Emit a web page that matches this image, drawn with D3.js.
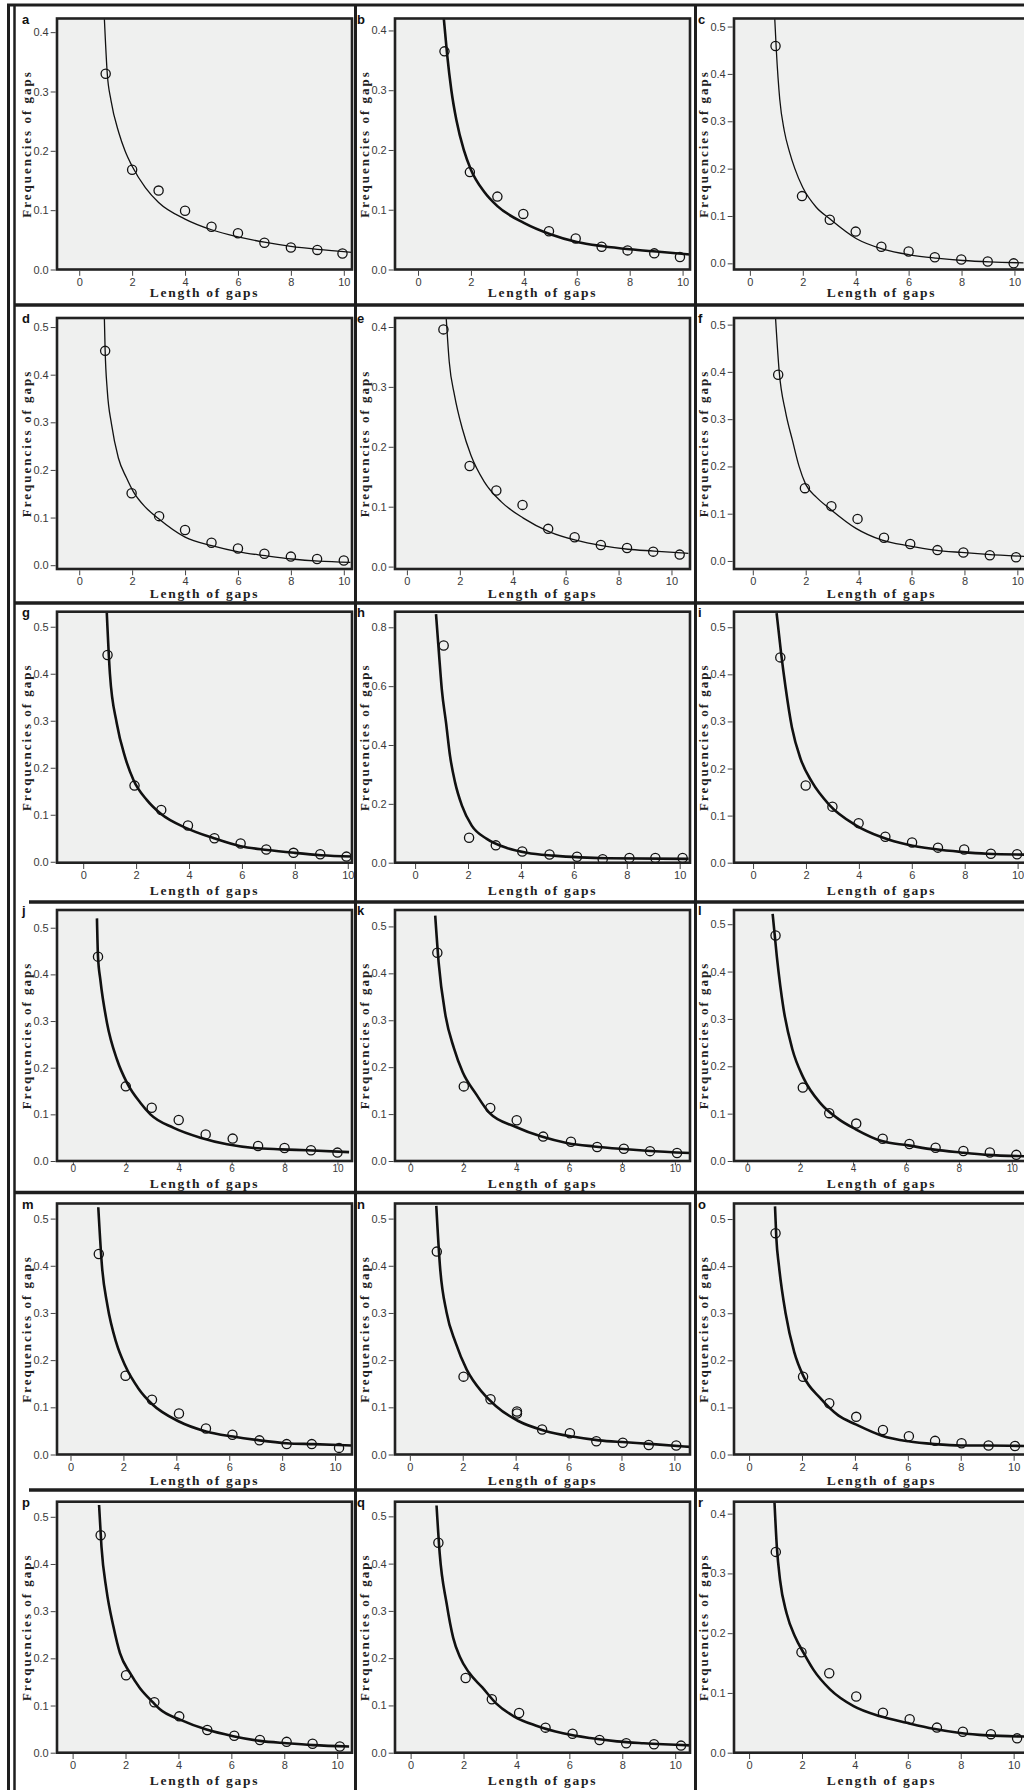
<!DOCTYPE html>
<html>
<head>
<meta charset="utf-8">
<script src="https://cdn.jsdelivr.net/npm/d3@7"></script>
<style>
  body { margin: 0; background: #fff; }
  svg { display: block; }
  .axis path.domain { display: none; }
  .axis .tick line { stroke: #444; stroke-width: 1; }
  .axis .tick text { font-family: "Liberation Sans", Arial, sans-serif; font-size: 11px; fill: #3a3a3a; }
  .ttl { font-family: "Liberation Serif", "Times New Roman", serif; font-weight: bold; fill: #222; }
  .letter { font-family: "Liberation Sans", Arial, sans-serif; font-weight: bold; font-size: 13px; fill: #111; }
</style>
</head>
<body>
<div id="fig"></div>
<script>
// panel letters, in reading order
var letters = ["a","b","c","d","e","f","g","h","i","j","k","l","m","n","o","p","q","r"];

// observed frequencies of gaps: [length, frequency]
var obsA = [[1,0.33],[2,0.168],[3,0.133],[4,0.099],[5,0.072],[6,0.061],[7,0.045],[8,0.037],[9,0.033],[9.95,0.027]];
var obsB = [[1,0.365],[1.96,0.163],[3,0.122],[3.98,0.093],[4.95,0.064],[5.96,0.052],[6.94,0.038],[7.92,0.032],[8.93,0.027],[9.9,0.021]];
var obsC = [[0.97,0.459],[1.97,0.142],[3.02,0.092],[4,0.067],[4.97,0.035],[6,0.025],[6.99,0.013],[7.99,0.008],[8.99,0.004],[9.97,0.0]];
var obsD = [[0.98,0.45],[1.98,0.151],[3.02,0.103],[4,0.074],[5,0.047],[6,0.035],[7,0.024],[8,0.018],[8.99,0.013],[10,0.01]];
var obsE = [[1.38,0.396],[2.37,0.168],[3.38,0.127],[4.37,0.103],[5.34,0.063],[6.34,0.049],[7.33,0.036],[8.32,0.031],[9.31,0.025],[10.31,0.02]];
var obsF = [[0.96,0.394],[1.97,0.154],[2.97,0.116],[3.96,0.089],[4.96,0.049],[5.95,0.036],[6.98,0.023],[7.96,0.018],[8.96,0.012],[9.95,0.008]];
var obsG = [[0.92,0.44],[1.94,0.162],[2.95,0.11],[3.96,0.077],[4.96,0.05],[5.95,0.039],[6.92,0.026],[7.95,0.019],[8.96,0.016],[9.95,0.011]];
var obsH = [[1.08,0.738],[2.04,0.085],[3.05,0.059],[4.05,0.038],[5.08,0.028],[6.12,0.02],[7.09,0.012],[8.1,0.016],[9.08,0.016],[10.11,0.016]];
var obsI = [[1.03,0.436],[1.99,0.164],[3,0.119],[3.99,0.084],[5,0.055],[6.01,0.043],[6.99,0.032],[7.98,0.028],[8.99,0.019],[9.98,0.018]];
var obsJ = [[0.95,0.438],[2,0.16],[2.98,0.114],[4,0.088],[5.02,0.057],[6.04,0.048],[7,0.032],[8,0.028],[9,0.023],[10,0.018]];
var obsK = [[1.02,0.444],[2.02,0.159],[3.02,0.113],[4.02,0.087],[5.02,0.052],[6.07,0.041],[7.06,0.03],[8.07,0.026],[9.06,0.021],[10.08,0.017]];
var obsL = [[1.07,0.476],[2.1,0.155],[3.1,0.101],[4.12,0.079],[5.12,0.047],[6.13,0.036],[7.12,0.028],[8.17,0.021],[9.17,0.018],[10.17,0.013]];
var obsM = [[1.07,0.425],[2.08,0.167],[3.08,0.116],[4.1,0.087],[5.12,0.055],[6.12,0.042],[7.14,0.03],[8.17,0.022],[9.12,0.022],[10.15,0.014]];
var obsN = [[1.02,0.43],[2.03,0.165],[3.05,0.117],[4.05,0.091],[4.05,0.087],[5,0.053],[6.05,0.045],[7.05,0.028],[8.05,0.025],[9.03,0.02],[10.07,0.019]];
var obsO = [[1,0.47],[2.04,0.165],[3.03,0.109],[4.05,0.08],[5.06,0.052],[6.04,0.039],[7.03,0.029],[8.03,0.024],[9.05,0.019],[10.05,0.018]];
var obsP = [[1.06,0.461],[2.02,0.164],[3.09,0.107],[4.03,0.077],[5.09,0.048],[6.11,0.036],[7.08,0.027],[8.09,0.023],[9.07,0.019],[10.1,0.013]];
var obsQ = [[1.05,0.444],[2.08,0.158],[3.07,0.113],[4.1,0.084],[5.1,0.053],[6.12,0.04],[7.14,0.027],[8.15,0.02],[9.2,0.018],[10.22,0.015]];
var obsR = [[1.01,0.336],[1.98,0.168],[3.03,0.133],[4.05,0.094],[5.06,0.067],[6.07,0.056],[7.1,0.042],[8.08,0.035],[9.14,0.031],[10.13,0.024]];

// fitted curves: [length, frequency]
var fitA = [[0.95,0.423],[1.06,0.33],[1.2,0.285],[1.5,0.23],[1.73,0.2],[2,0.174],[2.5,0.138],[3,0.113],[4,0.085],[5,0.067],[6,0.055],[7,0.046],[8,0.039],[9,0.034],[10.3,0.029]];
var fitB = [[0.97,0.422],[1.1,0.36],[1.26,0.3],[1.45,0.25],[1.73,0.2],[2,0.167],[2.5,0.13],[3,0.106],[4,0.078],[5,0.059],[6,0.046],[7,0.039],[8,0.034],[9,0.03],[10.3,0.025]];
var fitC = [[0.94,0.517],[1,0.45],[1.13,0.346],[1.3,0.28],[1.5,0.235],[1.7,0.2],[2,0.16],[2.5,0.119],[3.02,0.094],[4.03,0.052],[5.03,0.03],[6.04,0.018],[7.04,0.011],[8.05,0.006],[9.06,0.003],[10.34,0.001]];
var fitD = [[0.95,0.519],[0.98,0.45],[1.06,0.367],[1.22,0.296],[1.48,0.225],[1.79,0.183],[2.05,0.154],[2.5,0.122],[2.99,0.098],[4,0.059],[5.01,0.041],[6.02,0.028],[7.03,0.02],[8.04,0.013],[9.05,0.0085],[10.25,0.006]];
var fitE = [[1.48,0.419],[1.6,0.342],[1.8,0.286],[2.09,0.231],[2.42,0.186],[2.92,0.142],[3.57,0.108],[4.4,0.081],[5.39,0.058],[6.38,0.044],[7.36,0.035],[8.35,0.029],[9.34,0.026],[10.64,0.022]];
var fitF = [[0.86,0.514],[1,0.4],[1.24,0.315],[1.5,0.255],[1.75,0.2],[2,0.162],[2.4,0.135],[2.9,0.111],[3.9,0.069],[4.89,0.044],[5.89,0.032],[6.88,0.023],[7.88,0.018],[8.87,0.014],[10.5,0.009]];
var fitG = [[0.89,0.532],[1.01,0.4],[1.27,0.294],[1.58,0.223],[1.9,0.174],[2.41,0.131],[2.91,0.103],[3.92,0.071],[4.94,0.05],[5.95,0.033],[6.96,0.025],[7.97,0.019],[8.99,0.014],[10.19,0.011]];
var fitH = [[0.79,0.845],[0.91,0.701],[1.01,0.588],[1.17,0.475],[1.32,0.363],[1.51,0.273],[1.77,0.194],[2.14,0.126],[2.71,0.081],[3.47,0.05],[4.22,0.034],[5.23,0.024],[6.24,0.018],[7.25,0.015],[10.34,0.013]];
var fitI = [[0.89,0.53],[1.06,0.445],[1.23,0.372],[1.47,0.287],[1.8,0.22],[2.22,0.172],[2.88,0.123],[3.87,0.08],[4.87,0.054],[5.86,0.038],[6.85,0.029],[7.85,0.023],[8.84,0.019],[10.5,0.017]];
var fitJ = [[0.91,0.52],[0.95,0.438],[1.04,0.388],[1.29,0.296],[1.67,0.217],[2.05,0.167],[2.55,0.125],[2.93,0.1],[3.81,0.071],[4.82,0.05],[5.83,0.036],[6.84,0.028],[7.85,0.025],[8.86,0.023],[10.44,0.019]];
var fitK = [[0.94,0.523],[1.07,0.423],[1.32,0.313],[1.65,0.24],[1.98,0.189],[2.48,0.143],[2.98,0.103],[3.97,0.073],[4.96,0.052],[5.95,0.038],[6.94,0.031],[7.93,0.026],[8.93,0.022],[10.58,0.017]];
var fitL = [[0.96,0.522],[1.12,0.431],[1.37,0.322],[1.7,0.237],[2.12,0.176],[2.78,0.121],[3.44,0.089],[4.1,0.067],[5.09,0.042],[6.08,0.033],[7.07,0.024],[8.07,0.018],[9.06,0.013],[10.6,0.01]];
var fitM = [[1.05,0.524],[1.19,0.399],[1.39,0.318],[1.73,0.237],[2.07,0.188],[2.58,0.139],[3.08,0.107],[4.1,0.07],[5.12,0.049],[6.14,0.038],[7.15,0.03],[8.17,0.024],[9.19,0.022],[10.63,0.019]];
var fitN = [[1,0.527],[1.14,0.399],[1.39,0.301],[1.73,0.237],[2.15,0.18],[2.75,0.131],[3.25,0.103],[4.1,0.071],[5.12,0.05],[6.14,0.038],[7.15,0.03],[8.17,0.026],[9.19,0.022],[10.63,0.016]];
var fitO = [[0.98,0.527],[1.03,0.46],[1.13,0.4],[1.38,0.3],[1.71,0.217],[2.04,0.168],[2.7,0.119],[3.37,0.083],[4.03,0.064],[5.02,0.04],[6.02,0.028],[7.01,0.022],[8.01,0.019],[9,0.019],[10.46,0.018]];
var fitP = [[1,0.525],[1.09,0.437],[1.28,0.345],[1.54,0.268],[1.79,0.211],[2.17,0.169],[2.54,0.137],[3.05,0.106],[3.3,0.092],[4.06,0.07],[5.06,0.049],[6.07,0.035],[7.08,0.025],[8.09,0.02],[9.09,0.016],[10.45,0.013]];
var fitQ = [[0.98,0.523],[1.1,0.421],[1.36,0.316],[1.61,0.243],[1.86,0.203],[2.2,0.17],[2.71,0.138],[3.22,0.105],[3.9,0.077],[4.75,0.057],[5.76,0.041],[6.78,0.031],[7.8,0.024],[8.81,0.02],[10.76,0.015]];
var fitR = [[0.96,0.419],[1.05,0.344],[1.17,0.289],[1.42,0.233],[1.74,0.194],[2.06,0.167],[2.43,0.139],[3.06,0.106],[3.95,0.078],[4.96,0.061],[5.96,0.05],[6.97,0.04],[7.98,0.033],[8.99,0.029],[10.4,0.027]];

// tick labels
var xTicks = [0, 2, 4, 6, 8, 10];
var yTicks4 = [0, 0.1, 0.2, 0.3, 0.4];
var yTicks5 = [0, 0.1, 0.2, 0.3, 0.4, 0.5];
var yTicks8 = [0, 0.2, 0.4, 0.6, 0.8];

// axis extents of every panel (they differ a little from panel to panel)
var yMins = [0, 0, -0.013, -0.008, -0.004, -0.017, -0.002, 0, 0, 0, 0, 0, 0, 0, 0, 0, 0, 0];
var yMaxs = [0.423, 0.42, 0.517, 0.519, 0.415, 0.514, 0.532, 0.853, 0.533, 0.538, 0.535, 0.53, 0.532, 0.532, 0.533, 0.532, 0.531, 0.42];
var xMins = [-0.84, -0.87, -0.6, -0.84, -0.45, -0.71, -0.99, -0.76, -0.72, -0.6, -0.58, -0.5, -0.51, -0.56, -0.57, -0.59, -0.59, -0.57];

var obsAll = [obsA,obsB,obsC,obsD,obsE,obsF,obsG,obsH,obsI,obsJ,obsK,obsL,obsM,obsN,obsO,obsP,obsQ,obsR];
var fitAll = [fitA,fitB,fitC,fitD,fitE,fitF,fitG,fitH,fitI,fitJ,fitK,fitL,fitM,fitN,fitO,fitP,fitQ,fitR];
var yTickAll = [yTicks4,yTicks4,yTicks5,yTicks5,yTicks4,yTicks5,yTicks5,yTicks8,yTicks5,
                yTicks5,yTicks5,yTicks5,yTicks5,yTicks5,yTicks5,yTicks5,yTicks5,yTicks4];
var thinFit = ["a","c","d","e","f"];

// page layout
var W = 1024, H = 1790;
var colLeft = [57, 395, 734], rowTop = [18.5, 318, 611.7, 910, 1203.5, 1501.7];
var plotW = 295, plotH = 251, xSpan = 11.15;
var titleGap = [27, 29, 32, 27, 30, 32];
var tickLen = [5, 5, 5, 3, 5, 5];   // row 4 is squeezed: short ticks so labels clear the title
var tickPad = [2, 2, 2, 0, 2, 2];
var letterX = [22, 357, 698];

var svg = d3.select("#fig").append("svg")
    .attr("width", W)
    .attr("height", H);

svg.append("rect").attr("width", W).attr("height", H).attr("fill", "#fff");

// cell borders
var borders = [
  [7, 5, W, 5, 3],
  [8.5, 4, 8.5, H, 3],
  [14.5, 5, 14.5, H, 2.5],
  [355.5, 5, 355.5, H, 3],
  [695.5, 5, 695.5, H, 3],
  [14, 305, W, 305, 3.5],
  [14, 603, W, 603, 3.5],
  [29, 902, W, 902, 3.5],
  [14, 1192.5, W, 1192.5, 3.5],
  [29, 1490, W, 1490, 3.5]
];
svg.selectAll("line.border").data(borders).enter().append("line")
    .attr("class", "border")
    .attr("x1", function(d) { return d[0]; })
    .attr("y1", function(d) { return d[1]; })
    .attr("x2", function(d) { return d[2]; })
    .attr("y2", function(d) { return d[3]; })
    .attr("stroke", "#1e1e1e")
    .attr("stroke-width", function(d) { return d[4]; });

letters.forEach(function(id, i) {
  var col = i % 3, row = Math.floor(i / 3);
  var left = colLeft[col], top = rowTop[row];

  var x = d3.scaleLinear().domain([xMins[i], xMins[i] + xSpan]).range([0, plotW]);
  var y = d3.scaleLinear().domain([yMins[i], yMaxs[i]]).range([plotH, 0]);

  var g = svg.append("g").attr("transform", "translate(" + left + "," + top + ")");

  // plot background
  g.append("rect")
      .attr("width", plotW)
      .attr("height", plotH)
      .attr("fill", "#eff0ef");

  g.append("clipPath").attr("id", "clip-" + id)
    .append("rect").attr("width", plotW).attr("height", plotH);

  var inner = g.append("g").attr("clip-path", "url(#clip-" + id + ")");

  // fitted curve
  var line = d3.line()
      .x(function(d) { return x(d[0]); })
      .y(function(d) { return y(d[1]); })
      .curve(d3.curveMonotoneX);

  inner.append("path")
      .datum(fitAll[i])
      .attr("d", line)
      .attr("fill", "none")
      .attr("stroke", "#111")
      .attr("stroke-width", thinFit.indexOf(id) >= 0 ? 1.3 : 2.6);

  // observed points
  inner.selectAll("circle").data(obsAll[i]).enter().append("circle")
      .attr("cx", function(d) { return x(d[0]); })
      .attr("cy", function(d) { return y(d[1]); })
      .attr("r", 4.6)
      .attr("fill", "none")
      .attr("stroke", "#111")
      .attr("stroke-width", 1.3);

  // frame
  g.append("rect")
      .attr("width", plotW)
      .attr("height", plotH)
      .attr("fill", "none")
      .attr("stroke", "#222")
      .attr("stroke-width", 2.6);

  // axes
  g.append("g")
      .attr("class", "axis")
      .attr("transform", "translate(-1.3,0)")
      .call(d3.axisLeft(y).tickValues(yTickAll[i]).tickSize(5).tickPadding(2).tickFormat(d3.format(".1f")));

  var xAxis = g.append("g")
      .attr("class", "axis")
      .attr("transform", "translate(0," + (plotH + 1.3) + ")")
      .call(d3.axisBottom(x).tickValues(xTicks).tickSize(tickLen[row]).tickPadding(tickPad[row]));
  if (row === 3) xAxis.selectAll(".tick text").style("font-size", "10px");

  // axis titles
  g.append("text")
      .attr("class", "ttl")
      .attr("x", plotW / 2)
      .attr("y", plotH + titleGap[row])
      .attr("text-anchor", "middle")
      .style("font-size", "13.5px")
      .style("letter-spacing", "1.7px")
      .text("Length of gaps");

  g.append("text")
      .attr("class", "ttl")
      .attr("transform", "translate(-26.5," + (plotH / 2) + ") rotate(-90)")
      .attr("text-anchor", "middle")
      .style("font-size", "13px")
      .style("letter-spacing", "2px")
      .text("Frequencies of gaps");

  // panel letter
  g.append("text")
      .attr("class", "letter")
      .attr("x", letterX[col] - left)
      .attr("y", 5)
      .text(id);
});
</script>
</body>
</html>
